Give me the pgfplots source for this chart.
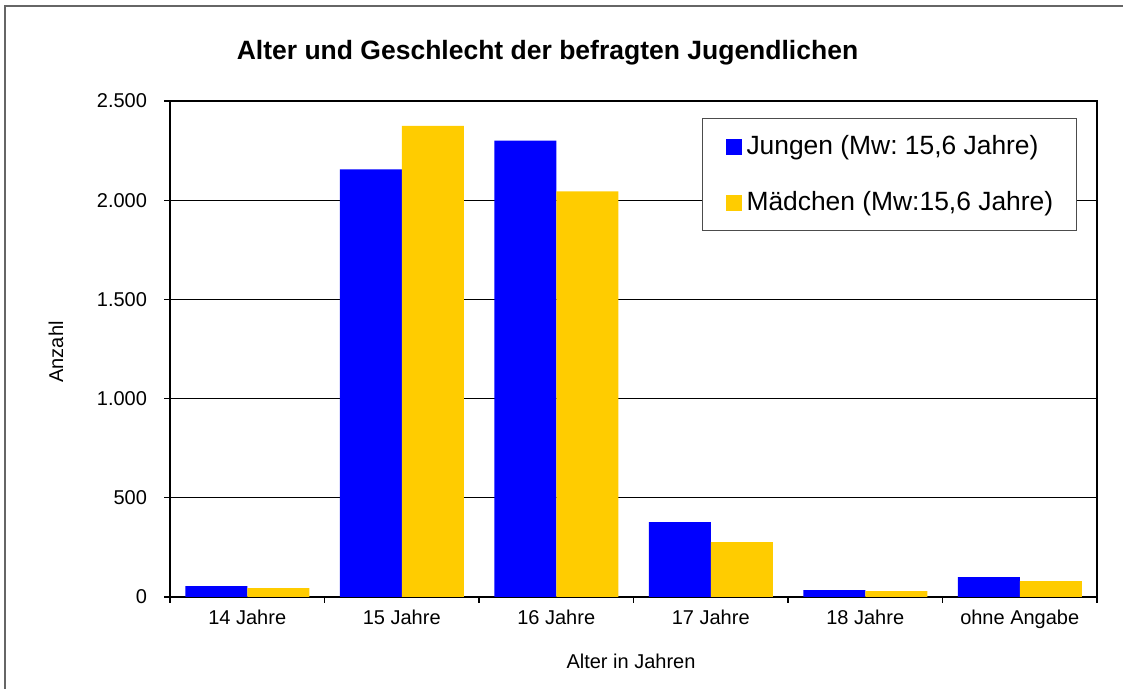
\documentclass[border=0pt]{standalone}
\usepackage{fontspec}
\setmainfont{Liberation Sans}
\usepackage{pgfplots}
\pgfplotsset{compat=1.18}
\definecolor{jblue}{RGB}{0,0,255}
\definecolor{mgold}{RGB}{255,204,0}
\frenchspacing
\begin{document}
\begin{tikzpicture}
\path[use as bounding box] (0,0) rectangle (561.5pt,344.5pt);
\draw[black!60, line width=0.6pt] (2.5pt,-20pt) -- (2.5pt,341.5pt) -- (600pt,341.5pt);
\begin{axis}[
  at={(85pt,46pt)}, anchor=south west,
  scale only axis, width=463.5pt, height=248pt,
  ybar=0pt, bar width=31pt,
  xmin=-0.5, xmax=5.5, ymin=0, ymax=2500,
  xtick={0,...,5},
  xticklabels={14 Jahre,15 Jahre,16 Jahre,17 Jahre,18 Jahre,ohne Angabe},
  major x tick style={draw=none},
  minor xtick={-0.5,0.5,...,5.5},
  ytick={0,500,...,2500},
  ymajorgrids, grid style={black, line width=0.5pt},
  axis line style={black, line width=1pt},
  tick style={black, line width=0.6pt},
  tick align=outside, major tick length=3pt, minor tick length=3pt,
  tick pos=left,
  /pgf/number format/1000 sep={.},
  /pgf/number format/assume math mode=true,
  ticklabel style={font=\fontsize{10}{12}\selectfont},
  yticklabel style={xshift=-5pt},
  legend style={at={(rel axis cs:0.5739,0.9657)}, anchor=north west,
    draw=black!70, line width=0.5pt,
    font=\fontsize{13.2}{15.8}\selectfont,
    inner xsep=11.5pt, inner ysep=8.5pt, row sep=17pt,
    nodes={inner sep=0pt}, column sep=2.5pt,
    legend cell align=left},
  legend image code/.code={\fill[#1] (0pt,-4pt) rectangle (8pt,4pt);},
]
\addplot[fill=jblue, draw=none] coordinates {(0,55) (1,2155) (2,2300) (3,378) (4,35) (5,100)};
\addplot[fill=mgold, draw=none] coordinates {(0,45) (1,2375) (2,2045) (3,276) (4,30) (5,80)};
\legend{Jungen (Mw: 15{,}6 Jahre), Mädchen (Mw:15{,}6 Jahre)}
\end{axis}
\node[font=\bfseries\fontsize{13.25}{15}\selectfont] at (273.75pt,318pt) {Alter und Geschlecht der befragten Jugendlichen};
\node[font=\fontsize{10}{12}\selectfont] at (315.5pt,14pt) {Alter in Jahren};
\node[font=\fontsize{10}{12}\selectfont, rotate=90] at (28pt,168.5pt) {Anzahl};
\end{tikzpicture}
\end{document}
